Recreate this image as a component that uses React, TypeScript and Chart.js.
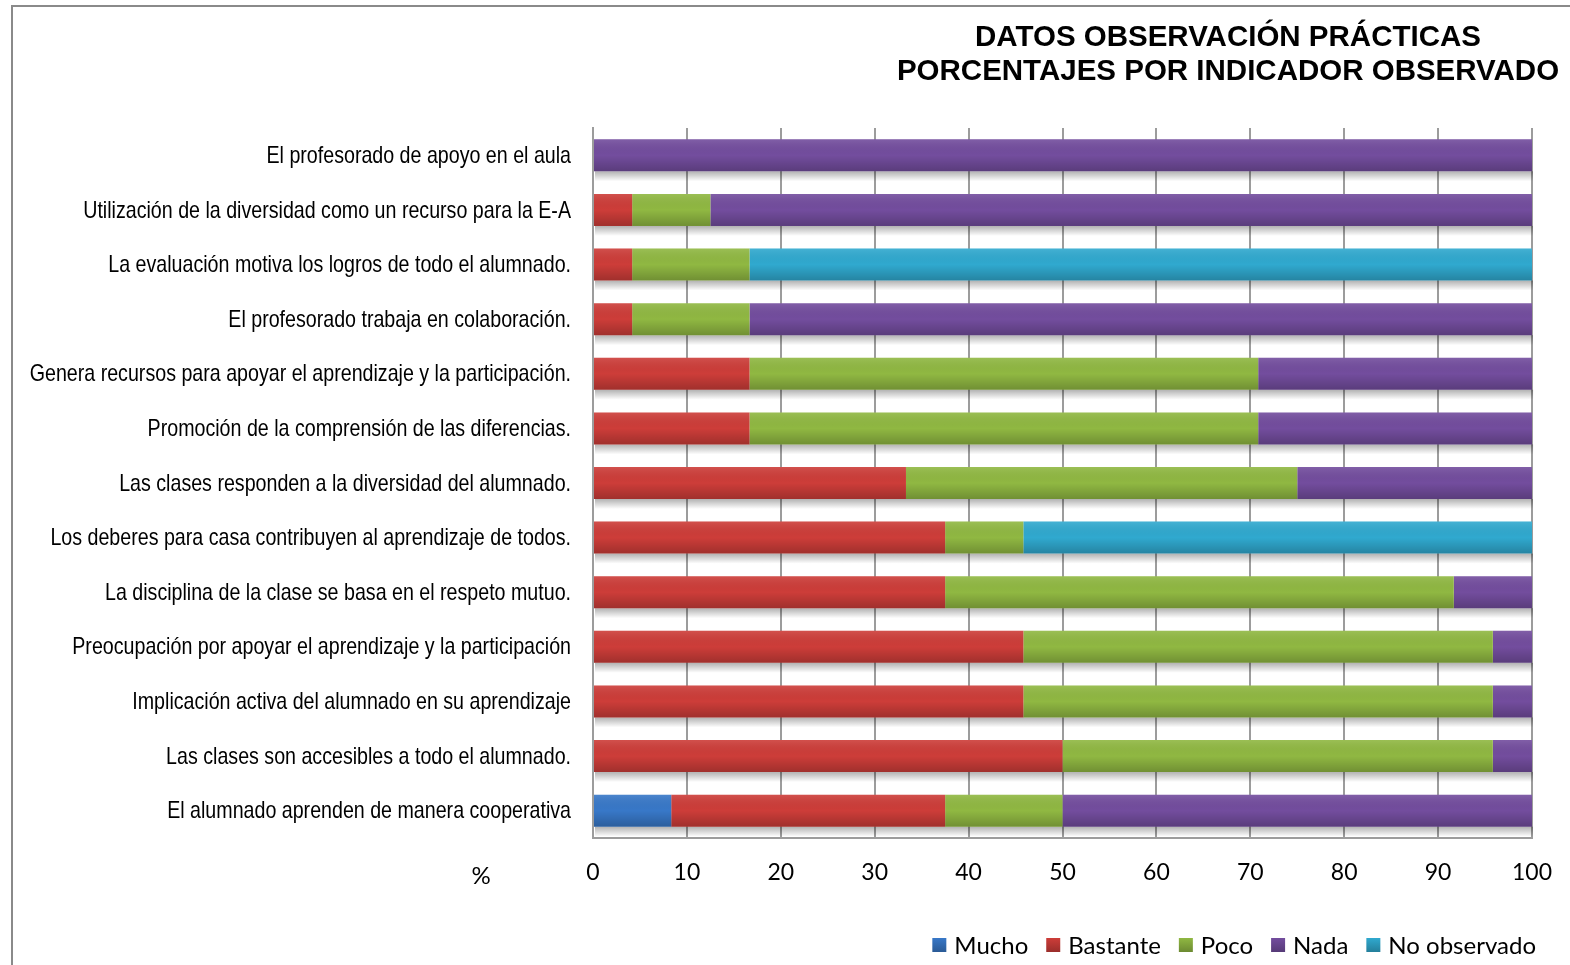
import React, { useEffect, useRef } from "react";
import { Chart, registerables } from "chart.js";

Chart.register(...registerables);

const categories = [
  "El profesorado de apoyo en el aula",
  "Utilización de la diversidad como un recurso para la E-A",
  "La evaluación motiva los logros de todo el alumnado.",
  "El profesorado trabaja en colaboración.",
  "Genera recursos para apoyar el aprendizaje y la participación.",
  "Promoción de la comprensión de las diferencias.",
  "Las clases responden a la diversidad del alumnado.",
  "Los deberes para casa contribuyen al aprendizaje de todos.",
  "La disciplina de la clase se basa en el respeto mutuo.",
  "Preocupación por apoyar el aprendizaje y la participación",
  "Implicación activa del alumnado en su aprendizaje",
  "Las clases son accesibles a todo el alumnado.",
  "El alumnado aprenden de manera cooperativa",
];

const mucho = [0, 0, 0, 0, 0, 0, 0, 0, 0, 0, 0, 0, 8.33];
const bastante = [0, 4.17, 4.17, 4.17, 16.67, 16.67, 33.33, 37.5, 37.5, 45.83, 45.83, 50, 29.17];
const poco = [0, 8.33, 12.5, 12.5, 54.17, 54.17, 41.67, 8.33, 54.17, 50, 50, 45.83, 12.5];
const nada = [100, 87.5, 0, 83.33, 29.17, 29.17, 25, 0, 8.33, 4.17, 4.17, 4.17, 50];
const noObservado = [0, 0, 83.33, 0, 0, 0, 0, 54.17, 0, 0, 0, 0, 0];

const seriesNames = ["Mucho", "Bastante", "Poco", "Nada", "No observado"];
const seriesValues = [mucho, bastante, poco, nada, noObservado];
const seriesColors = ["#3878c8", "#cd3d39", "#90b842", "#734d9e", "#30a9cf"];

const titleLines = ["DATOS OBSERVACIÓN PRÁCTICAS", "PORCENTAJES POR INDICADOR OBSERVADO"];
const axisTitle = "%";
const xMin = 0;
const xMax = 100;
const xStep = 10;

const CAL = 'Lato, "Open Sans", sans-serif';
const ARIAL = '"Liberation Sans", Arial, sans-serif';

const decorPlugin = {
  id: "decor",
  beforeDraw(chart: any) {
    const ctx = chart.ctx;
    ctx.save();
    ctx.fillStyle = "#ffffff";
    ctx.fillRect(0, 0, chart.width, chart.height);
    ctx.strokeStyle = "#8a8a8a";
    ctx.lineWidth = 2;
    ctx.beginPath();
    ctx.moveTo(12, chart.height);
    ctx.lineTo(12, 6);
    ctx.lineTo(chart.width, 6);
    ctx.stroke();
    ctx.restore();
  },
  beforeDatasetsDraw(chart: any) {
    // drop shadow below each stacked bar
    const ctx = chart.ctx;
    const n = chart.data.labels.length;
    ctx.save();
    for (let j = 0; j < n; j++) {
      let minX = Infinity, maxX = -Infinity, bottom = 0;
      chart.data.datasets.forEach((_: any, i: number) => {
        const el = chart.getDatasetMeta(i).data[j];
        if (!el) return;
        const a = Math.min(el.x, el.base), b = Math.max(el.x, el.base);
        if (b - a < 0.5) return;
        minX = Math.min(minX, a);
        maxX = Math.max(maxX, b);
        bottom = el.y + el.height / 2;
      });
      if (!isFinite(minX)) continue;
      const g = ctx.createLinearGradient(0, bottom, 0, bottom + 10);
      g.addColorStop(0, "rgba(0,0,0,0.30)");
      g.addColorStop(1, "rgba(0,0,0,0)");
      ctx.fillStyle = g;
      ctx.fillRect(minX + 1, bottom, maxX - minX, 10);
    }
    ctx.restore();
  },
  afterDatasetsDraw(chart: any) {
    // vertical shading on each bar
    const ctx = chart.ctx;
    ctx.save();
    chart.data.datasets.forEach((_: any, i: number) => {
      chart.getDatasetMeta(i).data.forEach((el: any) => {
        const a = Math.min(el.x, el.base), b = Math.max(el.x, el.base);
        if (b - a < 0.5) return;
        const top = el.y - el.height / 2;
        const g = ctx.createLinearGradient(0, top, 0, top + el.height);
        g.addColorStop(0, "rgba(255,255,255,0.10)");
        g.addColorStop(0.5, "rgba(0,0,0,0.0)");
        g.addColorStop(1, "rgba(0,0,0,0.22)");
        ctx.fillStyle = g;
        ctx.fillRect(a, top, b - a, el.height);
      });
    });
    ctx.restore();
  },
  afterDraw(chart: any) {
    const ctx = chart.ctx;
    ctx.save();
    // category labels (narrow face emulated by horizontal scaling)
    const ys = chart.scales.y;
    ctx.fillStyle = "#000";
    ctx.font = `24px ${ARIAL}`;
    ctx.textAlign = "right";
    ctx.textBaseline = "middle";
    chart.data.labels.forEach((l: string, i: number) => {
      const y = ys.getPixelForTick(i);
      ctx.save();
      ctx.translate(ys.right - 22, y + 1);
      ctx.scale(0.818, 1);
      ctx.fillText(l, 0, 0);
      ctx.restore();
    });
    // title
    ctx.font = `bold 29.5px ${ARIAL}`;
    ctx.textAlign = "center";
    ctx.fillText(titleLines[0], 1228, 38);
    ctx.fillText(titleLines[1], 1228, 72);
    // axis title
    ctx.font = `24px ${CAL}`;
    ctx.fillText(axisTitle, 481, 876);
    // legend
    ctx.font = `24px ${CAL}`;
    ctx.textAlign = "left";
    const box = 14, gapBT = 8, gapItems = 18;
    const widths = seriesNames.map((s) => ctx.measureText(s).width);
    let total = 0;
    widths.forEach((w, i) => {
      total += box + gapBT + w + (i < widths.length - 1 ? gapItems : 0);
    });
    let x = 1536 - total;
    const cy = 945;
    seriesNames.forEach((s, i) => {
      const g = ctx.createLinearGradient(0, cy - box / 2, 0, cy + box / 2);
      g.addColorStop(0, seriesColors[i]);
      g.addColorStop(1, shade(seriesColors[i], 0.75));
      ctx.fillStyle = g;
      ctx.fillRect(x, cy - box / 2, box, box);
      ctx.fillStyle = "#000";
      ctx.fillText(s, x + box + gapBT, cy + 1);
      x += box + gapBT + widths[i] + gapItems;
    });
    ctx.restore();
  },
};

function shade(hex: string, f: number) {
  const r = parseInt(hex.slice(1, 3), 16), g = parseInt(hex.slice(3, 5), 16), b = parseInt(hex.slice(5, 7), 16);
  return `rgb(${Math.round(r * f)},${Math.round(g * f)},${Math.round(b * f)})`;
}

export default function App() {
  const ref = useRef<HTMLCanvasElement | null>(null);
  useEffect(() => {
    if (!ref.current) return;
    const chart = new Chart(ref.current, {
      type: "bar",
      data: {
        labels: categories,
        datasets: seriesNames.map((name, i) => ({
          label: name,
          data: seriesValues[i],
          backgroundColor: seriesColors[i],
          borderWidth: 0,
          barPercentage: 0.586,
          categoryPercentage: 1,
        })),
      },
      options: {
        indexAxis: "y",
        responsive: false,
        animation: false,
        layout: { padding: { left: 0, right: 38, top: 128, bottom: 0 } },
        plugins: {
          legend: { display: false },
          title: { display: false },
          tooltip: { enabled: false },
        },
        scales: {
          x: {
            stacked: true,
            min: xMin,
            max: xMax,
            ticks: { stepSize: xStep, color: "#000", font: { family: CAL, size: 23 }, padding: 21, maxRotation: 0 },
            grid: { color: "#9c9c9c", lineWidth: 2, drawTicks: false },
            border: { display: true, color: "#9c9c9c", width: 2 },
            afterFit: (s: any) => {
              s.height = 965 - 838;
              s.paddingLeft = 0;
              s.paddingRight = 0;
            },
          },
          y: {
            stacked: true,
            ticks: { display: false },
            grid: { display: false, drawTicks: false },
            border: { display: true, color: "#9c9c9c", width: 2 },
            afterFit: (s: any) => {
              s.width = 593;
              s.paddingTop = 0;
              s.paddingBottom = 0;
            },
          },
        },
      } as any,
      plugins: [decorPlugin],
    });
    return () => chart.destroy();
  }, []);
  return (
    <div style={{ position: "fixed", left: 0, top: 0, width: 1570, height: 965, background: "#fff" }}>
      <canvas ref={ref} width={1570} height={965} style={{ display: "block" }} />
    </div>
  );
}
